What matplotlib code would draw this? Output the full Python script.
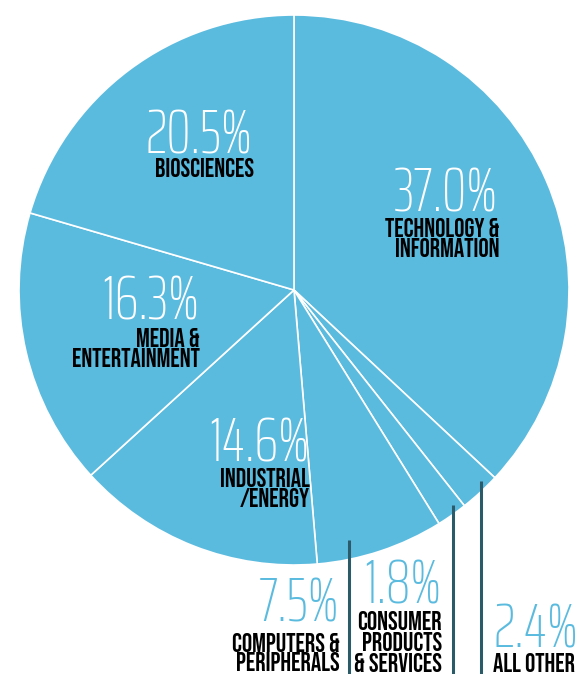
import matplotlib
matplotlib.use("Agg")
import matplotlib.pyplot as plt

# ---------------------------------------------------------------------
# Donnees : parts par secteur, dans le sens horaire depuis midi
secteurs = ["TECHNOLOGY &\nINFORMATION", "ALL OTHER", "CONSUMER\nPRODUCTS\n& SERVICES",
            "COMPUTERS &\nPERIPHERALS", "INDUSTRIAL\n/ENERGY", "MEDIA &\nENTERTAINMENT",
            "BIOSCIENCES"]
parts = [37.0, 2.4, 1.8, 7.5, 14.6, 16.3, 20.5]
etiquettes = ["37.0%", "2.4%", "1.8%", "7.5%", "14.6%", "16.3%", "20.5%"]

BLEU = "#5bbbdf"
TRAIT = "#2b5a69"
W, H = 579, 674

# polices : chiffres fins condenses, noms en capitales grasses
F_PCT = dict(family=["Saira ExtraCondensed", "DejaVu Sans"], weight=250, fontsize=44)
F_NOM = dict(family=["Bebas Neue", "DejaVu Sans"], fontsize=18.5)

fig = plt.figure(figsize=(W / 100, H / 100), dpi=100)
ax = fig.add_axes([0, 0, 1, 1])

# ---------------------------------------------------------------------
# Camembert (coordonnees en pixels, axe y vers le haut)
cx, cy, R = 294, H - 290, 275
ax.pie(parts, center=(cx, cy), radius=R, startangle=90, counterclock=False,
       colors=[BLEU] * len(parts),
       wedgeprops=dict(edgecolor="white", linewidth=1.2))
ax.set_xlim(0, W)
ax.set_ylim(0, H)
ax.set_aspect("equal")
ax.axis("off")

# traits de rappel des petites parts
for x, y0 in [(349, 540), (453, 505), (481, 481)]:
    ax.plot([x, x], [H - y0, -5], color=TRAIT, lw=2.2, solid_capstyle="butt")

# ---------------------------------------------------------------------
# Textes : (x, ligne de base du pourcentage, alignement, couleur, lignes du nom)
placement = [
    (498, 211, "right", "white", [237, 257]),      # technology
    (493, 647, "left", BLEU, [672]),               # all other
    (441, 603, "right", BLEU, [630, 651, 672]),    # consumer
    (339, 622, "right", BLEU, [652, 671]),         # computers
    (309, 461, "right", "white", [487, 507]),      # industrial
    (199, 320, "right", "white", [347, 367]),      # media
    (253, 153, "right", "white", [177]),           # biosciences
]

for nom, pct, (x, yb, ha, coul, lignes) in zip(secteurs, etiquettes, placement):
    ax.text(x, H - yb, pct, ha=ha, va="baseline", color=coul, **F_PCT)
    for ligne, yl in zip(nom.split("\n"), lignes):
        ax.text(x + (1 if ha == "right" else 0), H - yl, ligne, ha=ha, va="baseline",
                color="black", **F_NOM)

fig.savefig("out.png", dpi=100)
